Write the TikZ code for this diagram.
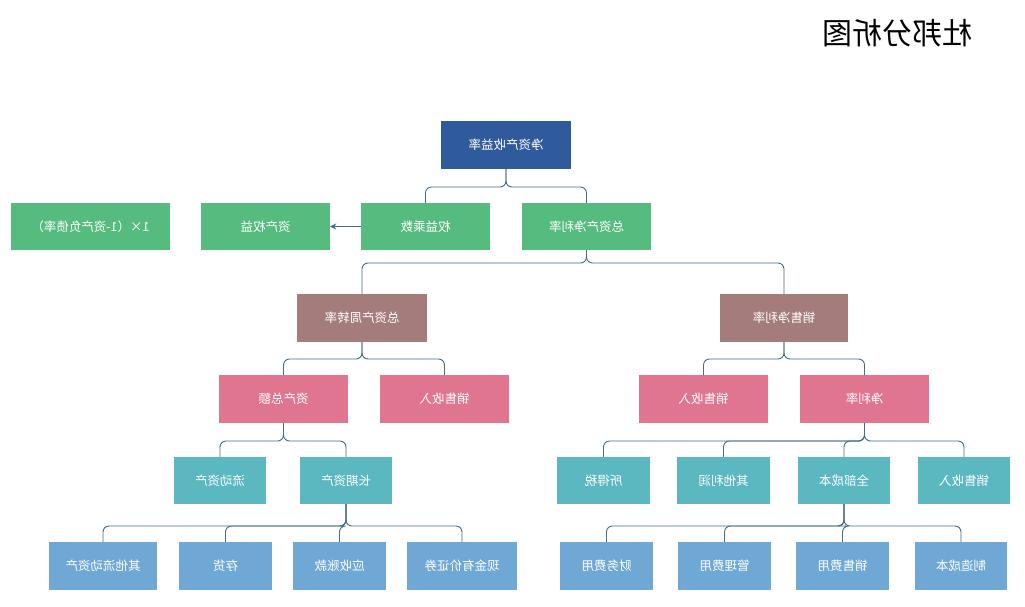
\documentclass[tikz,border=0pt]{standalone}
\usepackage{fontspec}
\setmainfont{Noto Sans CJK SC}
\usetikzlibrary{arrows.meta}

\definecolor{topblue}{HTML}{2F5B9C}
\definecolor{leafgreen}{HTML}{56BB7F}
\definecolor{mauve}{HTML}{A57C7C}
\definecolor{rose}{HTML}{E0758F}
\definecolor{teal}{HTML}{5BB7C0}
\definecolor{skyblue}{HTML}{6FA8D5}
\definecolor{linkcol}{HTML}{466A80}

\begin{document}
\begin{tikzpicture}[x=1pt,y=-1pt,
    % every text in the picture is mirrored
    box/.style={minimum width=#1, minimum height=47pt, inner sep=0pt,
      text=white, font=\fontsize{12.5}{14}\selectfont, xscale=-1},
    box/.default=129pt,
    link/.style={draw=linkcol, line width=0.9pt, rounded corners=6pt}]
  \useasboundingbox (0,0) rectangle (1025,606);

  \node[xscale=-1, font=\fontsize{30}{32}\selectfont] (title) at (897,33) {杜邦分析图};

  % level 1 and 2
  \node[box=130pt, minimum height=48pt, fill=topblue] (roe) at (506,145) {净资产收益率};
  \node[box, fill=leafgreen] (rona) at (586.5,226.5) {总资产净利率};
  \node[box, fill=leafgreen] (em) at (425.5,226.5) {权益乘数};
  \node[box, fill=leafgreen] (ae) at (265.5,226.5) {资产权益};
  \node[box=159pt, fill=leafgreen] (debt) at (90.5,226.5) {1×（1-资产负债率）};

  % level 3
  \node[box=130pt, minimum height=48pt, fill=mauve] (turnover) at (362,318) {总资产周转率};
  \node[box=128pt, minimum height=48pt, fill=mauve] (npm) at (784,318) {销售净利率};

  % level 4
  \node[box, minimum height=48pt, fill=rose] (assets) at (283.5,399) {资产总额};
  \node[box, minimum height=48pt, fill=rose] (salesA) at (444.5,399) {销售收入};
  \node[box, minimum height=48pt, fill=rose] (salesB) at (703.5,399) {销售收入};
  \node[box, minimum height=48pt, fill=rose] (netrate) at (864.5,399) {净利率};

  % level 5
  \node[box=92pt, fill=teal] (current) at (220,480.5) {流动资产};
  \node[box=92pt, fill=teal] (longterm) at (346,480.5) {长期资产};
  \node[box=93pt, fill=teal] (tax) at (603.5,480.5) {所得税};
  \node[box=93pt, fill=teal] (otherprofit) at (723.5,480.5) {其他利润};
  \node[box=92pt, fill=teal] (totalcost) at (844,480.5) {全部成本};
  \node[box=92pt, fill=teal] (salesC) at (964,480.5) {销售收入};

  % level 6
  \node[box=108pt, minimum height=48pt, fill=skyblue] (othercur) at (103,566) {其他流动资产};
  \node[box=93pt, minimum height=48pt, fill=skyblue] (stock) at (225.5,566) {存货};
  \node[box=93pt, minimum height=48pt, fill=skyblue] (receivable) at (339.5,566) {应收账款};
  \node[box=110pt, minimum height=48pt, fill=skyblue] (cash) at (462,566) {现金有价证券};
  \node[box=93pt, minimum height=48pt, fill=skyblue] (finexp) at (606.5,566) {财务费用};
  \node[box=93pt, minimum height=48pt, fill=skyblue] (mgmtexp) at (724.5,566) {管理费用};
  \node[box=93pt, minimum height=48pt, fill=skyblue] (salesexp) at (842.5,566) {销售费用};
  \node[box=92pt, minimum height=48pt, fill=skyblue] (mfgcost) at (961,566) {制造成本};

  % tree links
  \foreach \parent/\y/\kids in {
    roe/187/{rona,em},
    rona/263/{turnover,npm},
    turnover/359/{assets,salesA},
    npm/359/{salesB,netrate},
    assets/441/{current,longterm},
    netrate/441/{tax,otherprofit,totalcost,salesC},
    longterm/526/{othercur,stock,receivable,cash},
    totalcost/526/{finexp,mgmtexp,salesexp,mfgcost}}
    \foreach \kid in \kids
      \draw[link] (\parent.south) -- (\parent.south |- 0,\y) -| (\kid.north);

  \draw[draw=linkcol, line width=0.9pt, -{Stealth[length=6pt,width=6pt]}] (em) -- (ae);
\end{tikzpicture}
\end{document}
